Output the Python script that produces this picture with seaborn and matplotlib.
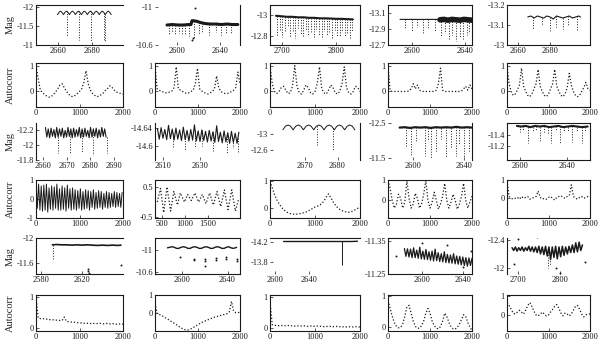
import numpy as np
import matplotlib
matplotlib.use("Agg")
import matplotlib.pyplot as plt
import seaborn as sns

# ---------------- light curves (HJD-2450000, magnitude) ----------------
R1C1_T = [2659.6, 2660.5, 2661.35, 2662.2, 2663.1, 2664.0, 2664.85, 2665.7, 2666.6, 2667.5,
          2668.35, 2669.2, 2670.1, 2671.0, 2671.85, 2672.7, 2673.6, 2674.5, 2675.35, 2676.2,
          2677.1, 2678.0, 2678.85, 2679.7, 2680.6, 2681.5, 2682.35, 2683.2, 2684.1, 2685.0,
          2685.85, 2686.7, 2687.6, 2688.5, 2689.35, 2690.2, 2691.1]
R1C1_MAG = [-11.79, -11.85, -11.88, -11.85, -11.79, -11.85, -11.88, -11.85, -11.79, -11.85,
            -11.88, -11.85, -11.79, -11.85, -11.88, -11.85, -11.79, -11.85, -11.88, -11.85,
            -11.79, -11.85, -11.88, -11.85, -11.79, -11.85, -11.88, -11.85, -11.79, -11.85,
            -11.88, -11.85, -11.79, -11.85, -11.88, -11.85, -11.79]
R1C1_DIP_T = [2665.0, 2672.0, 2679.0, 2686.8, 2687.4]
R1C1_DIP_MAG = [-11.24, -11.12, -11.08, -11.1, -11.08]

R1C2_T = [2591, 2596, 2601, 2606, 2611, 2613, 2614, 2618, 2622, 2626, 2631, 2636, 2641, 2646, 2651, 2656]
R1C2_MAG = [-10.81, -10.815, -10.81, -10.81, -10.815, -10.815, -10.856, -10.85, -10.835, -10.825,
            -10.82, -10.82, -10.815, -10.82, -10.815, -10.815]
R1C2_DIP_T = [2593.3, 2595.5, 2598.6, 2601.7, 2604.8, 2607.9, 2611.0, 2615.6, 2620.2, 2623.4,
              2629.5, 2635.7, 2640.4, 2645.0, 2649.7]
R1C2_DIP_MAG = [-10.72, -10.74, -10.70, -10.73, -10.71, -10.72, -10.69, -10.66, -10.72, -10.73,
                -10.71, -10.74, -10.70, -10.73, -10.72]
R1C2_PT_T = [2617, 2614, 2614.5]
R1C2_PT_MAG = [-10.99, -10.65, -10.67]

R1C3_T = [2690, 2700, 2710, 2720, 2730, 2740, 2750, 2760, 2770, 2780, 2790, 2800, 2810, 2820, 2830]
R1C3_MAG = [-12.995, -12.99, -12.985, -12.985, -12.98, -12.98, -12.975, -12.975, -12.97, -12.97,
            -12.968, -12.965, -12.965, -12.962, -12.96]
R1C3_DIP_T = [2692, 2697, 2701, 2706, 2711, 2716, 2720, 2725, 2730, 2735, 2740, 2744, 2749, 2754, 2759,
              2763, 2768, 2773, 2778, 2782, 2787, 2792, 2797, 2801, 2806, 2811, 2815, 2820, 2825, 2829]
R1C3_DIP_MAG = [-12.8, -12.86, -12.79, -12.84, -12.9, -12.8, -12.85, -12.78, -12.88, -12.82,
                -12.79, -12.86, -12.8, -12.84, -12.78, -12.87, -12.81, -12.79, -12.85, -12.8,
                -12.83, -12.78, -12.86, -12.8, -12.79, -12.84, -12.8, -12.82, -12.78, -12.85]

R1C4_T = [2591, 2596, 2601, 2606, 2611, 2616, 2621, 2626, 2631, 2636, 2641, 2645]
R1C4_MAG = [-13.02, -13.02, -13.02, -13.02, -13.02, -13.02, -13.02, -13.015, -13.02, -13.015, -13.02, -13.015]
R1C4_BAND_T = [2621, 2624, 2627, 2630, 2633, 2636, 2639, 2642, 2645]
R1C4_BAND_MAG = [-13.015, -13.02, -13.01, -13.02, -13.015, -13.01, -13.02, -13.015, -13.01]
R1C4_DIP_T = [2595, 2600, 2604, 2608, 2612, 2617, 2622, 2625, 2628, 2630, 2633, 2636, 2638, 2641, 2643]
R1C4_DIP_MAG = [-12.9, -12.88, -12.92, -12.85, -12.9, -12.88, -12.8, -12.85, -12.78, -12.82,
                -12.75, -12.8, -12.76, -12.82, -12.85]

R1C5_T = [2666, 2668, 2670, 2672, 2674, 2676, 2678, 2680, 2682, 2684, 2686, 2688, 2690, 2692, 2694,
          2696, 2698, 2699]
R1C5_MAG = [-13.14, -13.145, -13.135, -13.145, -13.14, -13.135, -13.145, -13.14, -13.13, -13.145,
            -13.14, -13.135, -13.14, -13.145, -13.135, -13.14, -13.145, -13.14]
R1C5_DIP_T = [2669, 2675, 2680, 2684, 2688, 2691, 2697]
R1C5_DIP_MAG = [-13.08, -13.1, -13.07, -13.09, -13.08, -13.1, -13.07]

R3C1_T = [2661.0, 2661.6, 2662.2, 2662.8, 2663.4, 2664.0, 2664.6, 2665.2, 2665.8, 2666.4,
          2667.0, 2667.6, 2668.2, 2668.8, 2669.4, 2670.0, 2670.6, 2671.2, 2671.8, 2672.4,
          2673.0, 2673.6, 2674.2, 2674.8, 2675.4, 2676.0, 2676.6, 2677.2, 2677.8, 2678.4,
          2679.0, 2679.6, 2680.2, 2680.8, 2681.4, 2682.0, 2682.6, 2683.2, 2683.8, 2684.4,
          2685.0, 2685.6, 2686.2, 2686.8]
R3C1_MAG = [-12.24, -12.11, -12.22, -12.10, -12.23, -12.12, -12.21, -12.10, -12.24, -12.11,
            -12.22, -12.12, -12.23, -12.10, -12.20, -12.11, -12.24, -12.12, -12.22, -12.10,
            -12.23, -12.11, -12.21, -12.12, -12.24, -12.10, -12.22, -12.11, -12.23, -12.12,
            -12.20, -12.10, -12.24, -12.11, -12.22, -12.12, -12.23, -12.10, -12.21, -12.11,
            -12.24, -12.12, -12.22, -12.11]
R3C1_DIP_T = [2666.4, 2671.6, 2676.7, 2681.4, 2687.0]
R3C1_DIP_MAG = [-11.9, -11.88, -11.9, -11.87, -11.9]

R3C2_T = [2607, 2608, 2609, 2610, 2611, 2612, 2613, 2614, 2615, 2616, 2617, 2618, 2619, 2620, 2621,
          2622, 2623, 2624, 2625, 2626, 2627, 2628, 2629, 2630, 2631, 2632, 2633, 2634, 2635, 2636,
          2637, 2638, 2639, 2640, 2641, 2642, 2643, 2644, 2645, 2646, 2647, 2648, 2649, 2650, 2651]
R3C2_MAG = [-14.638, -14.615, -14.640, -14.617, -14.636, -14.614, -14.645, -14.616, -14.637, -14.613,
            -14.639, -14.615, -14.635, -14.612, -14.641, -14.614, -14.634, -14.611, -14.636, -14.613,
            -14.646, -14.611, -14.633, -14.610, -14.635, -14.612, -14.632, -14.609, -14.634, -14.611,
            -14.631, -14.608, -14.644, -14.610, -14.630, -14.607, -14.633, -14.609, -14.629, -14.606,
            -14.632, -14.608, -14.628, -14.606, -14.630]
R3C2_DIP_T = [2615.4, 2621.9, 2627.3, 2631.0, 2637.0, 2644.6, 2647.8, 2650.5]
R3C2_DIP_MAG = [-14.598, -14.592, -14.595, -14.6, -14.59, -14.586, -14.595, -14.588]

R3C3_T = [2663, 2663.8, 2664.6, 2665.4, 2666.2, 2667, 2667.8, 2668.6, 2669.4, 2670.2, 2671, 2671.8,
          2672.6, 2673.4, 2674.2, 2675, 2675.8, 2676.6, 2677.4, 2678.2, 2679, 2679.8, 2680.6, 2681.4,
          2682.2, 2683, 2683.8, 2684.6, 2685.4]
R3C3_MAG = [-13.1, -13.19, -13.22, -13.19, -13.1, -13.19, -13.22, -13.19, -13.1, -13.19, -13.22, -13.19,
            -13.1, -13.19, -13.22, -13.19, -13.1, -13.19, -13.22, -13.19, -13.1, -13.19, -13.22, -13.19,
            -13.1, -13.19, -13.22, -13.19, -13.1]
R3C3_DIP_T = [2673.7, 2678.7]
R3C3_DIP_MAG = [-12.72, -12.6]

R3C4_T = [2590, 2594, 2598, 2602, 2606, 2610, 2614, 2618, 2622, 2626, 2630, 2634, 2638, 2642, 2646]
R3C4_MAG = [-12.37, -12.38, -12.36, -12.38, -12.37, -12.38, -12.36, -12.38, -12.37, -12.38,
            -12.37, -12.39, -12.37, -12.38, -12.37]
R3C4_DIP_T = [2595.3, 2599.1, 2602.9, 2609.3, 2611.8, 2614.4, 2618.2, 2622.0, 2625.8, 2629.7,
              2633.5, 2636.0, 2639.8, 2643.7]
R3C4_DIP_MAG = [-11.85, -11.6, -11.95, -11.55, -12.0, -11.5, -11.7, -12.05, -11.5, -11.8,
                -11.55, -11.9, -11.5, -11.7]

R3C5_T = [2597.5, 2601, 2605, 2609, 2613, 2617, 2621, 2625, 2629, 2633, 2637, 2641, 2645, 2649, 2653, 2658]
R3C5_MAG = [-11.55, -11.54, -11.55, -11.53, -11.55, -11.54, -11.55, -11.53, -11.54, -11.55,
            -11.53, -11.54, -11.55, -11.54, -11.53, -11.54]
R3C5_DIP_T = [2600, 2603, 2607, 2611, 2614, 2617, 2621, 2624, 2627, 2631, 2634, 2638, 2641, 2645,
              2649, 2653, 2656]
R3C5_DIP_MAG = [-11.45, -11.47, -11.26, -11.44, -11.47, -11.27, -11.45, -11.43, -11.26, -11.46,
                -11.25, -11.44, -11.46, -11.27, -11.45, -11.26, -11.44]

R5C1_T = [2591, 2595, 2600, 2605, 2610, 2615, 2620, 2625, 2630, 2635, 2640, 2645, 2650, 2655, 2658]
R5C1_MAG = [-11.89, -11.895, -11.89, -11.89, -11.885, -11.89, -11.885, -11.89, -11.885, -11.88,
            -11.885, -11.88, -11.885, -11.88, -11.885]
R5C1_DIP_T = [2591.5]
R5C1_DIP_MAG = [-11.65]
R5C1_PT_T = [2626, 2626, 2626.5, 2658]
R5C1_PT_MAG = [-11.5, -11.47, -11.44, -11.57]

R5C2_T = [2587, 2589, 2591, 2593, 2595, 2597, 2599, 2601, 2603, 2605, 2607, 2609, 2611, 2613, 2615,
          2617, 2619, 2621, 2623, 2625, 2627, 2629, 2631, 2633, 2635, 2637, 2639, 2641, 2643, 2645,
          2647, 2648]
R5C2_MAG = [-11.04, -11.05, -11.06, -11.05, -11.03, -11.03, -11.05, -11.06, -11.05, -11.03,
            -11.03, -11.05, -11.06, -11.05, -11.03, -11.03, -11.05, -11.06, -11.05, -11.03,
            -11.03, -11.05, -11.06, -11.05, -11.03, -11.03, -11.05, -11.06, -11.04, -11.03,
            -11.04, -11.05]
R5C2_PT_T = [2598, 2610, 2610, 2620, 2620, 2620, 2630, 2630, 2639, 2639, 2648, 2648]
R5C2_PT_MAG = [-10.88, -10.82, -10.84, -10.8, -10.83, -10.7, -10.82, -10.85, -10.84, -10.87, -10.8, -10.83]

R5C3_T = [2610, 2630, 2650, 2670, 2679, 2690, 2697]
R5C3_MAG = [-14.21, -14.21, -14.21, -14.21, -14.21, -14.21, -14.215]
R5C3_DIP_T = [2679]
R5C3_DIP_MAG = [-13.74]

R5C4_T = [2583.0, 2584.5, 2586.0, 2587.5, 2589.0, 2590.5, 2592.0, 2593.5, 2595.0, 2596.5,
          2598.0, 2599.5, 2601.0, 2602.5, 2604.0, 2605.5, 2607.0, 2608.5, 2610.0, 2611.5,
          2613.0, 2614.5, 2616.0, 2617.5, 2619.0, 2620.5, 2622.0, 2623.5, 2625.0, 2626.5,
          2628.0, 2629.5, 2631.0, 2632.5, 2634.0, 2635.5, 2637.0, 2638.5, 2640.0, 2641.5,
          2643.0, 2644.5, 2646.0, 2647.5, 2649.0]
R5C4_MAG = [-11.328, -11.304, -11.327, -11.302, -11.326, -11.300, -11.330, -11.300, -11.323, -11.298,
            -11.332, -11.296, -11.320, -11.295, -11.325, -11.294, -11.318, -11.292, -11.320, -11.290,
            -11.326, -11.291, -11.315, -11.288, -11.312, -11.287, -11.318, -11.285, -11.310, -11.284,
            -11.308, -11.283, -11.312, -11.281, -11.305, -11.280, -11.304, -11.278, -11.302, -11.276,
            -11.300, -11.274, -11.299, -11.276, -11.298]
R5C4_PT_T = [2575, 2600, 2625, 2640, 2648]
R5C4_PT_MAG = [-11.305, -11.345, -11.338, -11.27, -11.32]

R5C5_T = [2686, 2690, 2694, 2698, 2702, 2706, 2710, 2714, 2718, 2722, 2726, 2730, 2734, 2738, 2742,
          2746, 2750, 2754, 2758, 2762, 2766, 2770, 2774, 2778, 2782, 2786, 2790, 2794, 2798, 2802,
          2806, 2810, 2814, 2818, 2822, 2826, 2830, 2834, 2838, 2842, 2846, 2850, 2854]
R5C5_MAG = [-12.29, -12.25, -12.3, -12.24, -12.29, -12.25, -12.3, -12.24, -12.29, -12.25,
            -12.31, -12.24, -12.3, -12.23, -12.3, -12.22, -12.31, -12.2, -12.3, -12.19,
            -12.31, -12.17, -12.3, -12.12, -12.3, -12.15, -12.31, -12.13, -12.3, -12.16,
            -12.31, -12.18, -12.3, -12.2, -12.31, -12.22, -12.33, -12.22, -12.36, -12.23,
            -12.37, -12.25, -12.33]
R5C5_DIP_T = [2772, 2776]
R5C5_DIP_MAG = [-12.0, -12.04]
R5C5_PT_T = [2690, 2700, 2745, 2790, 2800, 2860]
R5C5_PT_MAG = [-12.05, -12.42, -12.44, -12.0, -11.93, -12.08]

# ---------------- autocorrelation (lag in days) ----------------
AC_LAG = [0, 50, 100, 150, 200, 250, 300, 350, 400, 450, 500, 550, 600, 650, 700, 750, 800, 850,
          900, 950, 1000, 1050, 1100, 1150, 1200, 1250, 1300, 1350, 1400, 1450, 1500, 1550, 1600,
          1650, 1700, 1750, 1800, 1850, 1900, 1950, 2000]

AC_R2C1 = [1.0, 0.5, 0.05, -0.05, -0.12, -0.18, -0.22, -0.2, -0.12, -0.02,
           0.1, 0.25, 0.3, 0.15, 0.0, -0.1, -0.18, -0.2, -0.15, -0.08,
           0.0, 0.1, 0.35, 0.8, 0.3, 0.05, -0.08, -0.15, -0.2, -0.18,
           -0.12, -0.05, 0.05, 0.12, 0.22, 0.15, 0.05, -0.02, -0.05, -0.08, -0.1]
AC_R2C2 = [1.0, 0.1, 0.05, 0.0, -0.02, -0.05, -0.05, -0.02, 0.02, 0.15,
           0.95, 0.1, 0.05, 0.0, -0.05, -0.08, -0.05, 0.0, 0.05, 0.3,
           0.9, 0.1, 0.02, -0.03, -0.08, -0.1, -0.05, 0.0, 0.1, 0.6,
           0.15, 0.0, -0.05, -0.08, -0.08, -0.05, 0.0, 0.05, 0.15, 0.75, 0.3]
AC_R2C3 = [1.0, 0.3, 0.0, -0.08, 0.0, 0.15, 0.2, 0.05, -0.08, -0.05,
           0.2, 1.0, 0.2, -0.05, -0.1, 0.05, 0.25, 0.15, -0.05, -0.1,
           0.0, 0.3, 0.95, 0.1, -0.05, -0.1, 0.05, 0.25, 0.15, -0.05,
           -0.1, 0.0, 0.3, 0.95, 0.15, -0.05, -0.1, 0.0, 0.2, 0.15, 0.0]
AC_R2C4 = [1.0, 0.05, 0.0, 0.0, 0.0, 0.0, 0.0, 0.0, 0.0, 0.0,
           0.02, 0.1, 0.3, 0.1, 0.25, 0.05, 0.0, 0.0, 0.0, 0.0,
           0.0, 0.0, 0.0, 0.05, 0.3, 0.9, 0.05, 0.0, 0.0, 0.0,
           0.0, 0.0, 0.0, 0.0, 0.0, 0.02, 0.1, 0.2, 0.05, 0.25, 0.1]
AC_R2C5 = [1.0, 0.3, 0.0, -0.15, -0.1, 0.05, 0.25, 0.9, 0.2, 0.0,
           -0.15, -0.2, -0.1, 0.1, 0.3, 0.85, 0.2, 0.0, -0.15, -0.2,
           -0.1, 0.1, 0.3, 0.85, 0.2, 0.0, -0.15, -0.2, -0.1, 0.15,
           0.7, 0.25, 0.0, -0.15, -0.2, -0.15, 0.0, 0.15, 0.35, 0.1, 0.05]

R4C1_LAG = [0, 30, 60, 90, 120, 150, 180, 210, 240, 270, 300, 330, 360, 390, 420, 450, 480, 510,
            540, 570, 600, 630, 660, 690, 720, 750, 780, 810, 840, 870, 900, 930, 960, 990, 1020,
            1050, 1080, 1110, 1140, 1170, 1200, 1230, 1260, 1290, 1320, 1350, 1380, 1410, 1440,
            1470, 1500, 1530, 1560, 1590, 1620, 1650, 1680, 1710, 1740, 1770, 1800, 1830, 1860,
            1890, 1920, 1950, 1980]
AC_R4C1 = [1.0, -0.5, 0.8, -0.6, 0.7, -0.65, 0.75, -0.6, 0.8, -0.7,
           0.6, -0.55, 0.7, -0.6, 0.65, -0.5, 0.8, -0.6, 0.55, -0.6,
           0.7, -0.55, 0.6, -0.65, 0.75, -0.5, 0.55, -0.6, 0.6, -0.55,
           0.5, -0.6, 0.45, -0.5, 0.55, -0.6, 0.4, -0.55, 0.5, -0.5,
           0.45, -0.6, 0.4, -0.45, 0.5, -0.55, 0.35, -0.5, 0.45, -0.45,
           0.4, -0.55, 0.3, -0.45, 0.4, -0.5, 0.35, -0.45, 0.3, -0.4,
           0.4, -0.45, 0.35, -0.4, 0.3, -0.45, 0.35]
R4C2_LAG = [400, 470, 540, 610, 690, 760, 840, 900, 990, 1060, 1140, 1220, 1300, 1380, 1460, 1540,
            1620, 1700, 1780, 1860, 1940, 2020, 2100, 2170]
AC_R4C2 = [0.0, 0.45, -0.35, 0.5, -0.3, 0.35, -0.1, 0.3, 0.0, 0.25, 0.05, 0.3, 0.0, 0.25, -0.05, 0.3,
           -0.1, 0.35, -0.15, 0.4, -0.25, 0.4, -0.3, 0.1]
AC_R4C3 = [1.0, 0.75, 0.5, 0.3, 0.15, 0.02, -0.08, -0.15, -0.2, -0.23,
           -0.25, -0.26, -0.25, -0.24, -0.22, -0.2, -0.17, -0.13, -0.08, -0.03,
           0.02, 0.05, 0.08, 0.15, 0.25, 0.4, 0.52, 0.38, 0.22, 0.1,
           0.0, -0.07, -0.12, -0.15, -0.17, -0.18, -0.16, -0.12, -0.08, -0.03, 0.02]
AC_R4C4 = [1.0, 0.6, 0.0, -0.4, -0.2, 0.3, 0.1, -0.4, -0.1, 1.0,
           0.1, -0.4, -0.2, 0.35, 0.1, -0.4, -0.2, 0.3, 1.0, 0.0,
           -0.4, -0.1, 0.4, 0.0, -0.45, -0.2, 0.2, 0.85, 0.0, -0.4,
           -0.1, 0.3, 0.0, -0.45, -0.2, 0.2, 0.85, 0.0, -0.4, -0.1, 0.2]
AC_R4C5 = [1.0, 0.1, 0.0, -0.05, 0.0, 0.05, -0.05, 0.1, 0.0, 0.05,
           0.1, -0.05, 0.0, 0.05, 0.1, 0.4, 0.05, -0.05, 0.0, -0.05,
           0.05, 0.1, 0.0, -0.1, 0.05, 0.1, 0.15, 0.05, 0.0, 0.1,
           0.15, 0.75, 0.1, 0.0, -0.05, 0.05, 0.1, 0.0, 0.05, 0.1, 0.05]

AC_R6C1 = [1.0, 0.32, 0.3, 0.3, 0.29, 0.28, 0.27, 0.26, 0.26, 0.25,
           0.25, 0.24, 0.24, 0.35, 0.21, 0.2, 0.19, 0.19, 0.18, 0.17,
           0.16, 0.16, 0.15, 0.15, 0.15, 0.14, 0.15, 0.14, 0.14, 0.15,
           0.14, 0.13, 0.14, 0.15, 0.13, 0.14, 0.13, 0.12, 0.13, 0.12, 0.12]
AC_R6C2 = [0.55, -0.05, -0.1, -0.15, -0.22, -0.3, -0.37, -0.45, -0.53, -0.6,
           -0.68, -0.77, -0.85, -0.92, -0.97, -1.0, -0.98, -0.92, -0.85, -0.78,
           -0.7, -0.63, -0.56, -0.5, -0.45, -0.4, -0.35, -0.3, -0.26, -0.22,
           -0.19, -0.15, -0.12, -0.08, -0.05, 0.05, 0.65, 0.1, 0.0, 0.02, 0.0]
AC_R6C3 = [0.85, 0.1, 0.08, 0.08, 0.07, 0.08, 0.07, 0.07, 0.08, 0.06,
           0.07, 0.06, 0.07, 0.06, 0.06, 0.07, 0.06, 0.05, 0.06, 0.05,
           0.05, 0.06, 0.05, 0.05, 0.04, 0.05, 0.04, 0.05, 0.04, 0.04,
           0.05, 0.04, 0.03, 0.04, 0.03, 0.04, 0.03, 0.03, 0.04, 0.03, 0.03]
AC_R6C4 = [0.85, 0.6, 0.35, 0.15, 0.03, -0.02, 0.0, 0.1, 0.35, 0.65,
           0.7, 0.45, 0.2, 0.03, -0.03, -0.03, 0.05, 0.2, 0.45, 0.6,
           0.45, 0.2, 0.05, -0.03, -0.05, 0.02, 0.2, 0.45, 0.35, 0.15,
           0.02, -0.05, -0.06, 0.0, 0.1, 0.25, 0.4, 0.35, 0.15, 0.0, -0.1]
AC_R6C5 = [0.65, 0.5, 0.3, 0.1, 0.05, 0.15, 0.25, 0.15, 0.05, 0.25,
           0.5, 0.65, 0.45, 0.2, 0.0, -0.05, 0.05, 0.15, 0.05, -0.05,
           0.0, 0.15, 0.3, 0.45, 0.55, 0.35, 0.1, -0.05, 0.1, 0.05,
           -0.05, 0.05, 0.25, 0.45, 0.5, 0.3, 0.05, -0.1, 0.0, 0.05, 0.05]

# ---------------- panel layout (pixels in a 600x349 figure) ----------------
COL_X = [36, 155, 270, 388, 507]
COL_W = [87, 85, 90, 84, 83]
ROW_Y = [(5, 45), (63, 107), (123, 160), (180, 218), (238, 274), (295, 331)]
W, H = 600, 349
ALL = ("left", "right", "top", "bottom")

LC = {
    (0, 0): dict(traces=[(R1C1_T, R1C1_MAG, 0.7)], dips=(R1C1_DIP_T, R1C1_DIP_MAG),
                 xlim=(2647, 2698), xt=[2660, 2680], ylim=(-11.03, -12.04),
                 yt=[-12, -11.5, -11], ytl=["-12", "-11.5", "-11"], sp=("left", "top", "bottom")),
    (0, 1): dict(traces=[(R1C2_T, R1C2_MAG, 2.2)], dips=(R1C2_DIP_T, R1C2_DIP_MAG),
                 pts=(R1C2_PT_T, R1C2_PT_MAG), xlim=(2580, 2658), xt=[2600, 2640],
                 ylim=(-10.6, -11.02), yt=[-11, -10.6], ytl=["-11", "-10.6"], sp=("right",)),
    (0, 2): dict(traces=[(R1C3_T, R1C3_MAG, 1.5)], dips=(R1C3_DIP_T, R1C3_DIP_MAG),
                 xlim=(2679, 2843), xt=[2700, 2800], ylim=(-12.71, -13.1),
                 yt=[-13, -12.8], ytl=["-13", "-12.8"], sp=ALL),
    (0, 3): dict(traces=[(R1C4_T, R1C4_MAG, 0.8), (R1C4_BAND_T, R1C4_BAND_MAG, 4.0)],
                 dips=(R1C4_DIP_T, R1C4_DIP_MAG), xlim=(2582, 2645), xt=[2600, 2640],
                 ylim=(-12.7, -13.2), yt=[-13.1, -12.9, -12.7], ytl=["-13.1", "-12.9", "-12.7"], sp=ALL),
    (0, 4): dict(traces=[(R1C5_T, R1C5_MAG, 0.8)], dips=(R1C5_DIP_T, R1C5_DIP_MAG),
                 xlim=(2653, 2705), xt=[2660, 2680], ylim=(-13.0, -13.2),
                 yt=[-13.2, -13.1, -13], ytl=["-13.2", "-13.1", "-13"], sp=ALL),
    (2, 0): dict(traces=[(R3C1_T, R3C1_MAG, 0.8)], dips=(R3C1_DIP_T, R3C1_DIP_MAG),
                 xlim=(2657, 2694), xt=[2660, 2670, 2680, 2690], ylim=(-11.8, -12.3),
                 yt=[-12.2, -12, -11.8], ytl=["-12.2", "-12", "-11.8"], sp=("left",)),
    (2, 1): dict(traces=[(R3C2_T, R3C2_MAG, 0.8)], dips=(R3C2_DIP_T, R3C2_DIP_MAG),
                 xlim=(2605.7, 2651.6), xt=[2610, 2630], ylim=(-14.57, -14.65),
                 yt=[-14.64, -14.6], ytl=["-14.64", "-14.6"], sp=("left",)),
    (2, 2): dict(traces=[(R3C3_T, R3C3_MAG, 0.7)], dips=(R3C3_DIP_T, R3C3_DIP_MAG),
                 xlim=(2659, 2687), xt=[2670, 2680], ylim=(-12.35, -13.27),
                 yt=[-13, -12.6], ytl=["-13", "-12.6"], sp=("right",)),
    (2, 3): dict(traces=[(R3C4_T, R3C4_MAG, 1.6)], dips=(R3C4_DIP_T, R3C4_DIP_MAG),
                 xlim=(2581, 2646), xt=[2600, 2640], ylim=(-11.45, -12.5),
                 yt=[-12.5, -11.5], ytl=["-12.5", "-11.5"], sp=("right",)),
    (2, 4): dict(traces=[(R3C5_T, R3C5_MAG, 1.5)], dips=(R3C5_DIP_T, R3C5_DIP_MAG),
                 xlim=(2589, 2660), xt=[2600, 2640], ylim=(-10.97, -11.6),
                 yt=[-11.4, -11.2], ytl=["-11.4", "-11.2"], sp=ALL),
    (4, 0): dict(traces=[(R5C1_T, R5C1_MAG, 1.2)], dips=(R5C1_DIP_T, R5C1_DIP_MAG),
                 pts=(R5C1_PT_T, R5C1_PT_MAG), xlim=(2575, 2660), xt=[2580, 2620],
                 ylim=(-11.42, -12.0), yt=[-12, -11.6], ytl=["-12", "-11.6"], sp=("left", "top", "bottom")),
    (4, 1): dict(traces=[(R5C2_T, R5C2_MAG, 1.0)], pts=(R5C2_PT_T, R5C2_PT_MAG),
                 xlim=(2576, 2651), xt=[2600, 2640], ylim=(-10.56, -11.22),
                 yt=[-11, -10.6], ytl=["-11", "-10.6"], sp=ALL),
    (4, 2): dict(traces=[(R5C3_T, R5C3_MAG, 1.0)], dips=(R5C3_DIP_T, R5C3_DIP_MAG), dipstyle="solid",
                 xlim=(2594, 2700), xt=[2600, 2640], ylim=(-13.56, -14.28),
                 yt=[-14.2, -13.8], ytl=["-14.2", "-13.8"], sp=("top",)),
    (4, 3): dict(traces=[(R5C4_T, R5C4_MAG, 0.9)], pts=(R5C4_PT_T, R5C4_PT_MAG),
                 xlim=(2567, 2649), xt=[2600, 2640], ylim=(-11.25, -11.36),
                 yt=[-11.35, -11.25], ytl=["-11.35", "-11.25"], sp=ALL),
    (4, 4): dict(traces=[(R5C5_T, R5C5_MAG, 1.1)], dips=(R5C5_DIP_T, R5C5_DIP_MAG),
                 pts=(R5C5_PT_T, R5C5_PT_MAG), xlim=(2674, 2872), xt=[2700, 2800],
                 ylim=(-11.91, -12.43), yt=[-12.4, -12], ytl=["-12.4", "-12"], sp=("left",)),
}

AC = {
    (1, 0): dict(x=AC_LAG, y=AC_R2C1, ylim=(-0.6, 1.1)),
    (1, 1): dict(x=AC_LAG, y=AC_R2C2, ylim=(-0.6, 1.1)),
    (1, 2): dict(x=AC_LAG, y=AC_R2C3, ylim=(-0.6, 1.1)),
    (1, 3): dict(x=AC_LAG, y=AC_R2C4, ylim=(-0.6, 1.1)),
    (1, 4): dict(x=AC_LAG, y=AC_R2C5, ylim=(-0.6, 1.1)),
    (3, 0): dict(x=R4C1_LAG, y=AC_R4C1, ylim=(-1.02, 1.02), yt=[-1, 0, 1], solid=True),
    (3, 1): dict(x=R4C2_LAG, y=AC_R4C2, ylim=(-0.53, 0.73), yt=[-0.5, 0.5], ytl=["-0.5", "0.5"],
                 xlim=(350, 2200), xt=[500, 1000, 1500]),
    (3, 2): dict(x=AC_LAG, y=AC_R4C3, ylim=(-0.4, 1.05)),
    (3, 3): dict(x=AC_LAG, y=AC_R4C4, ylim=(-0.9, 1.02)),
    (3, 4): dict(x=AC_LAG, y=AC_R4C5, ylim=(-1.1, 1.02)),
    (5, 0): dict(x=AC_LAG, y=AC_R6C1, ylim=(-0.1, 1.06)),
    (5, 1): dict(x=AC_LAG, y=AC_R6C2, ylim=(-1.05, 1.02)),
    (5, 2): dict(x=AC_LAG, y=AC_R6C3, ylim=(-0.1, 1.06)),
    (5, 3): dict(x=AC_LAG, y=AC_R6C4, ylim=(-0.12, 1.03)),
    (5, 4): dict(x=AC_LAG, y=AC_R6C5, ylim=(-0.84, 1.05)),
}


def make_ax(fig, r, c):
    y0, y1 = ROW_Y[r]
    rect = [COL_X[c] / W, 1 - y1 / H, COL_W[c] / W, (y1 - y0) / H]
    return fig.add_axes(rect)


def style_ax(ax, spines):
    for name in ALL:
        ax.spines[name].set_visible(name in spines)
        ax.spines[name].set_linewidth(0.8)
        ax.spines[name].set_color("k")
    ax.tick_params(direction="in", length=2, width=0.5, labelsize=6, pad=1.5,
                   top=False, right=False, colors="k")
    ax.set_xlabel("")
    ax.set_ylabel("")
    ax.grid(False)


def main():
    sns.set_theme(style="ticks")
    plt.rcParams["font.family"] = ["Liberation Serif", "DejaVu Serif"]
    fig = plt.figure(figsize=(6.0, 3.49), dpi=100)

    for (r, c), p in LC.items():
        ax = make_ax(fig, r, c)
        for t, m, lw in p["traces"]:
            sns.lineplot(x=t, y=m, sort=False, estimator=None, color="k", linewidth=lw, ax=ax)
        if "dips" in p:
            dt, dm = p["dips"]
            t0, m0 = p["traces"][0][0], p["traces"][0][1]
            ax.vlines(dt, np.interp(dt, t0, m0), dm, colors="k", linewidths=0.7,
                      linestyles=p.get("dipstyle", "dotted"))
        if "pts" in p:
            sns.scatterplot(x=p["pts"][0], y=p["pts"][1], s=2, color="k", linewidth=0, ax=ax)
        ax.set_xlim(*p["xlim"])
        ax.set_ylim(*p["ylim"])
        ax.set_xticks(p["xt"], [str(v) for v in p["xt"]])
        ax.set_yticks(p["yt"], p["ytl"])
        style_ax(ax, p["sp"])

    for (r, c), p in AC.items():
        ax = make_ax(fig, r, c)
        if p.get("solid"):
            sns.lineplot(x=p["x"], y=p["y"], sort=False, estimator=None, color="k", linewidth=0.7, ax=ax)
        else:
            sns.lineplot(x=p["x"], y=p["y"], sort=False, estimator=None, color="k", linewidth=0.9,
                         linestyle=(0, (1, 1.6)), ax=ax)
        ax.set_xlim(*p.get("xlim", (0, 2000)))
        ax.set_ylim(*p["ylim"])
        xt = p.get("xt", [0, 1000, 2000])
        ax.set_xticks(xt, [str(v) for v in xt])
        yt = p.get("yt", [0, 1])
        ax.set_yticks(yt, p.get("ytl", [str(v) for v in yt]))
        style_ax(ax, ALL)

    # row labels
    for r, label in enumerate(["Mag", "Autocorr", "Mag", "Autocorr", "Mag", "Autocorr"]):
        y0, y1 = ROW_Y[r]
        fig.text(10 / W, 1 - (y0 + y1) / 2 / H, label, rotation=90, ha="center", va="center",
                 fontsize=7.5)

    fig.savefig("out.png", dpi=100)
    plt.close(fig)


if __name__ == "__main__":
    main()
